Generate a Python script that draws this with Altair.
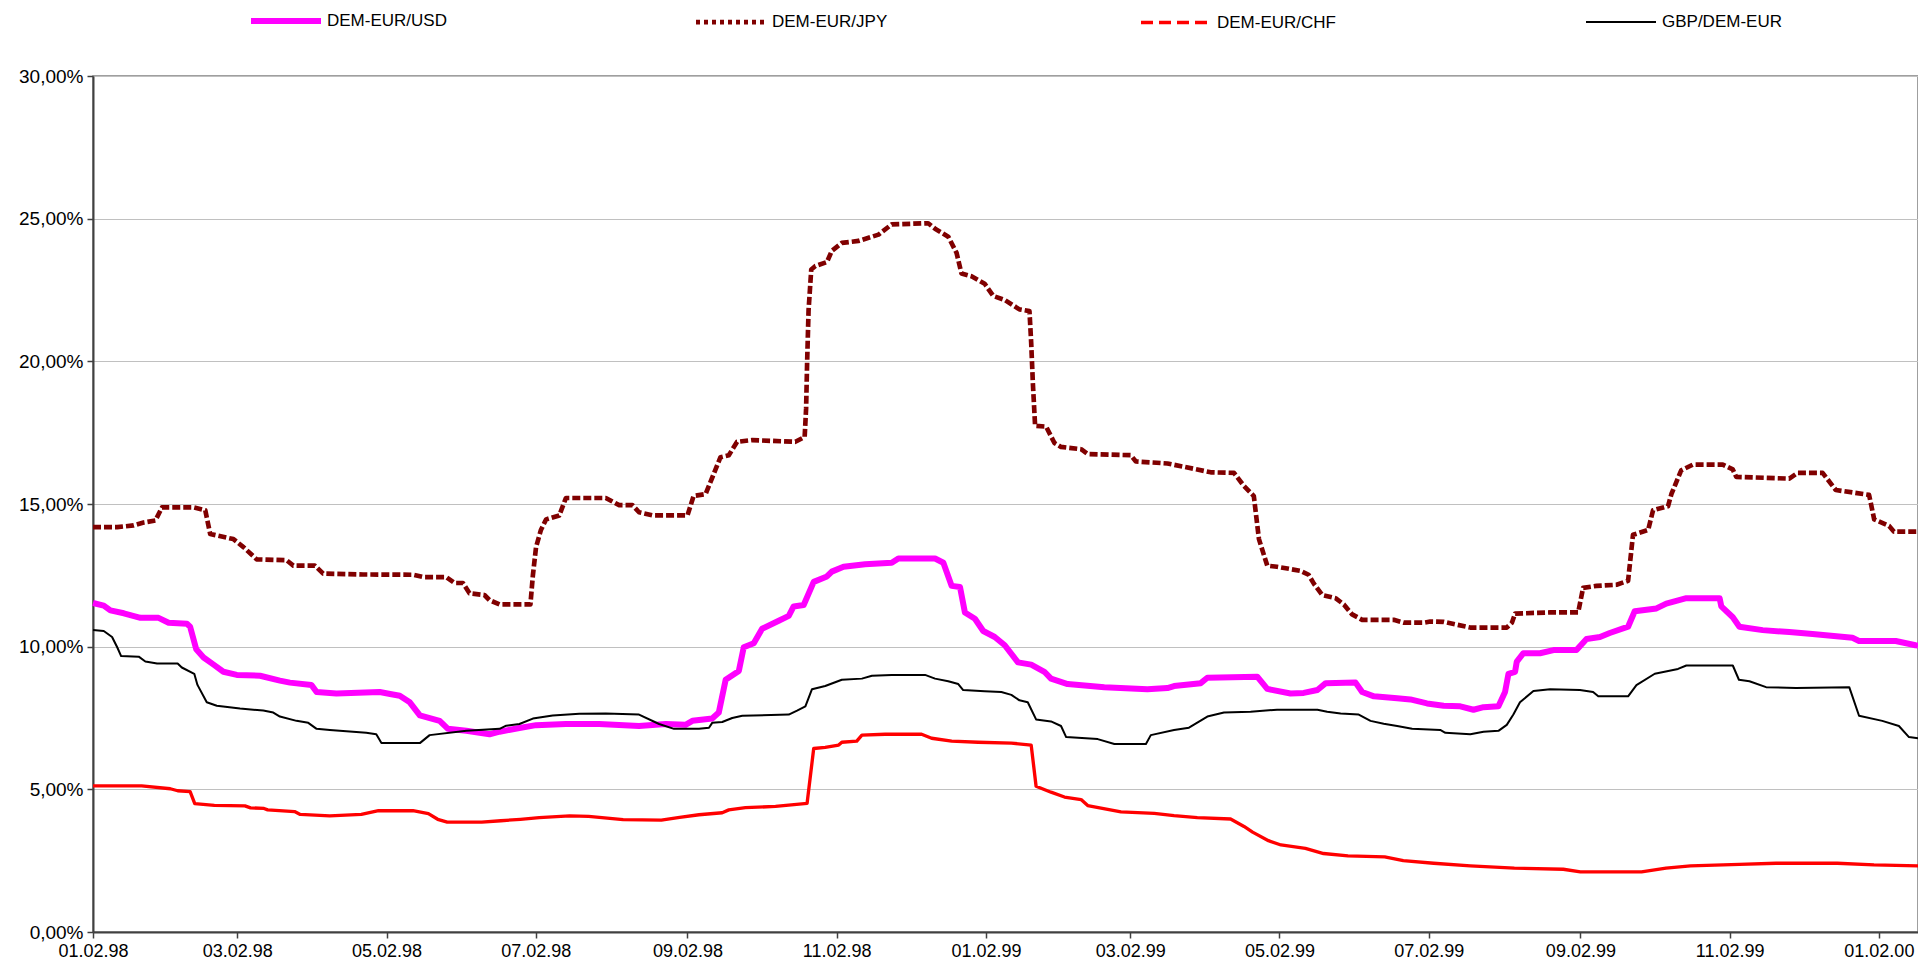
import altair as alt
import pandas as pd

START = "1998-01-02"
SERIES = ["DEM-EUR/USD", "DEM-EUR/JPY", "DEM-EUR/CHF", "GBP/DEM-EUR"]
COLORS = ["#FF00FF", "#800000", "#FF0000", "#000000"]
WIDTHS = [6, 2, 2.2, 2]

# x = days since 02 Jan 1998, y = volatility in %
usd_days = [0, 4.4, 7.1, 12.6, 19.4, 26.8, 30.9, 38.4, 39.7, 42.2, 45.2, 49.3, 53.3, 58.8, 68.3, 76.4, 80.5, 89.3,
            91.4, 99.5, 117.2, 122, 125.4, 129.5, 133.6, 141.7, 145.1, 152.6, 162.1, 166.2, 174.3, 181.1, 193.3,
            206.9, 223.2, 234.1, 242.2, 245.0, 253.1, 255.8, 258.6, 264.0, 266.0, 270.1, 273.5, 280.3, 284.4,
            286.4, 290.5, 294.6, 300.0, 302.0, 306.8, 315.6, 326.5, 329.2, 344.2, 347.6, 351.0, 354.4, 356.4,
            360.5, 363.9, 368.6, 372.7, 378.1, 383.5, 388.9, 391.6, 398.4, 413.4, 431.0, 439.2, 441.9, 452.8,
            455.5, 475.9, 480.0, 489.5, 494.9, 500.5, 503.9, 516.1, 518.8, 523.6, 533.1, 538.5, 545.3, 552.1,
            558.9, 564.3, 568.4, 574.5, 577.2, 578.6, 581.3, 582.0, 584.7, 591.5, 597.0, 606.4, 610.5, 616.0,
            620.0, 627.5, 630.2, 639.1, 643.1, 651.3, 664.9, 665.6, 670.3, 673.0, 682.5, 693.4, 702.9, 719.2,
            721.9, 736.9, 745.0, 746]
usd_vals = [11.53, 11.44, 11.27, 11.17, 11.01, 11.01, 10.84, 10.80, 10.70, 9.91, 9.62, 9.37, 9.12, 9.01, 8.98,
            8.81, 8.74, 8.66, 8.41, 8.36, 8.41, 8.33, 8.28, 8.05, 7.59, 7.40, 7.12, 7.05, 6.93, 7.02, 7.15, 7.25,
            7.29, 7.29, 7.22, 7.29, 7.26, 7.40, 7.48, 7.69, 8.84, 9.15, 9.98, 10.12, 10.63, 10.91, 11.08, 11.41,
            11.46, 12.27, 12.46, 12.63, 12.80, 12.89, 12.94, 13.09, 13.09, 12.94, 12.13, 12.09, 11.20, 10.98,
            10.55, 10.34, 10.05, 9.45, 9.37, 9.12, 8.88, 8.69, 8.58, 8.51, 8.55, 8.62, 8.72, 8.91, 8.95, 8.52,
            8.36, 8.38, 8.48, 8.72, 8.74, 8.41, 8.26, 8.19, 8.15, 8.01, 7.93, 7.91, 7.79, 7.88, 7.91, 8.41, 9.05,
            9.12, 9.48, 9.77, 9.77, 9.88, 9.88, 10.27, 10.34, 10.48, 10.70, 11.24, 11.34, 11.51, 11.70, 11.70,
            11.41, 11.03, 10.70, 10.58, 10.51, 10.44, 10.31, 10.20, 10.20, 10.05, 10.04]

jpy_days = [0, 9.9, 16.6, 20.7, 25.5, 28.2, 41.1, 45.9, 47.9, 57.4, 61.5, 66.9, 79.1, 81.9, 90.7, 94.1, 110.4,
            130.8, 134.9, 144.4, 147.8, 151.2, 153.9, 160.0, 162.1, 166.2, 178.8, 179.8, 181.1, 183.1, 185.2,
            190.6, 193.3, 209.6, 215.1, 220.5, 223.2, 228.7, 243.0, 245.5, 250.4, 253.1, 256.5, 259.9, 263.3,
            269.4, 287.1, 290.9, 291.5, 291.9, 292.5, 293.6, 295.3, 300.0, 302.0, 306.1, 312.9, 321.1, 326.5,
            341.4, 344.2, 349.6, 353.0, 355.0, 359.1, 364.5, 368.0, 372.7, 378.7, 382.8, 383.5, 384.2, 385.1,
            389.6, 393.0, 395.7, 403.9, 406.6, 424.2, 426.3, 439.2, 451.4, 456.9, 466.4, 470.4, 474.5, 476.6,
            480.0, 484.0, 493.5, 496.9, 499.1, 502.5, 507.9, 511.3, 514.7, 518.8, 531.7, 535.8, 543.9, 546.6,
            552.1, 557.5, 563.0, 577.9, 580.0, 581.3, 595.6, 607.1, 609.1, 614.6, 622.8, 627.5, 629.5, 635.7,
            637.7, 643.8, 645.2, 649.2, 654.0, 666.2, 670.3, 671.7, 693.4, 696.8, 707.0, 712.4, 726.0, 728.1,
            734.2, 736.2, 746]
jpy_vals = [14.19, 14.19, 14.25, 14.35, 14.42, 14.88, 14.88, 14.78, 13.95, 13.77, 13.49, 13.06, 13.03, 12.84,
            12.84, 12.56, 12.53, 12.52, 12.44, 12.44, 12.23, 12.23, 11.87, 11.81, 11.63, 11.48, 11.48, 12.49,
            13.49, 14.09, 14.46, 14.60, 15.21, 15.21, 14.96, 14.96, 14.71, 14.60, 14.60, 15.28, 15.35, 15.92,
            16.64, 16.71, 17.18, 17.24, 17.18, 17.35, 18.36, 19.93, 21.79, 23.22, 23.34, 23.48, 23.87, 24.15,
            24.22, 24.44, 24.80, 24.84, 24.65, 24.37, 23.80, 23.08, 22.98, 22.72, 22.29, 22.15, 21.82, 21.76,
            20.65, 19.21, 17.74, 17.71, 17.14, 17.00, 16.92, 16.75, 16.71, 16.49, 16.42, 16.21, 16.11, 16.09,
            15.64, 15.28, 13.77, 12.84, 12.80, 12.66, 12.52, 12.20, 11.81, 11.70, 11.48, 11.13, 10.94, 10.94,
            10.84, 10.84, 10.88, 10.87, 10.77, 10.67, 10.67, 10.84, 11.16, 11.20, 11.20, 12.06, 12.13, 12.17,
            12.31, 13.92, 14.09, 14.78, 14.92, 15.35, 16.18, 16.38, 16.38, 16.21, 15.95, 15.89, 16.09, 16.09,
            15.49, 15.32, 14.46, 14.23, 14.03, 14.03]

chf_days = [0, 19.9, 31.6, 34.6, 39.7, 41.6, 49.6, 62.1, 64.4, 69.9, 71.4, 82.4, 84.7, 96.8, 109.7, 116.7, 130.8,
            137.1, 140.9, 144.8, 158.9, 166.7, 174.7, 182.4, 194.8, 202.6, 216.7, 232.3, 239.8, 247.7, 257.2,
            259.9, 266.7, 279.0, 291.9, 294.6, 299.3, 304.8, 306.1, 312.2, 314.3, 323.8, 338.7, 342.8, 351.0,
            361.8, 375.4, 383.5, 385.5, 391.6, 397.1, 403.9, 406.6, 420.2, 433.8, 441.9, 451.4, 465.0, 470.5,
            474, 480.5, 485.6, 495.6, 503, 513, 528, 535.6, 548, 563, 581, 601, 608, 633, 643, 653, 673, 688,
            713, 728, 746]
chf_vals = [5.12, 5.12, 5.02, 4.95, 4.92, 4.50, 4.44, 4.42, 4.35, 4.33, 4.28, 4.22, 4.12, 4.07, 4.12, 4.25, 4.25,
            4.15, 3.95, 3.85, 3.85, 3.90, 3.95, 4.01, 4.07, 4.05, 3.94, 3.92, 4.02, 4.11, 4.18, 4.28, 4.36, 4.40,
            4.51, 6.43, 6.47, 6.55, 6.65, 6.69, 6.90, 6.93, 6.93, 6.79, 6.69, 6.65, 6.62, 6.55, 5.11, 4.90, 4.73,
            4.64, 4.43, 4.21, 4.16, 4.08, 4.01, 3.96, 3.70, 3.50, 3.20, 3.05, 2.93, 2.75, 2.67, 2.63, 2.50, 2.41,
            2.32, 2.24, 2.20, 2.11, 2.11, 2.24, 2.32, 2.37, 2.41, 2.41, 2.35, 2.32]

gbp_days = [0, 4.4, 7.8, 9.9, 11.5, 18.7, 21.4, 26.2, 34.6, 36.3, 41.4, 42.7, 46.5, 50.6, 60.1, 69.6, 73.7, 76.4,
            83.2, 88.0, 91.4, 96.8, 111.7, 115.8, 117.9, 133.6, 137.6, 152.6, 166.2, 168.9, 174.3, 179.8, 187.9,
            198.8, 209.6, 223.2, 231.4, 237.5, 247.7, 251.8, 253.1, 257.2, 261.3, 265.4, 284.4, 287.8, 291.2,
            293.9, 299.3, 306.1, 314.3, 318.4, 326.5, 340.1, 344.2, 349.6, 353.7, 355.7, 364.5, 371.3, 375.4,
            378.7, 382.1, 385.5, 391.6, 395.7, 397.8, 410.7, 417.5, 430.4, 432.4, 441.9, 448.0, 455.5, 462.3,
            473.2, 484.0, 500.5, 504.5, 510.0, 517.4, 522.2, 527.6, 533.1, 539.2, 550.7, 552.8, 563.0, 568.4,
            574.5, 577.9, 580.6, 583.3, 588.8, 595.6, 607.8, 613.2, 615.3, 627.5, 630.9, 638.4, 647.9, 651.3,
            670.3, 672.8, 677.1, 683.9, 696.1, 717.9, 721.9, 731.4, 738.2, 742.3, 746]
gbp_vals = [10.58, 10.55, 10.34, 9.98, 9.67, 9.65, 9.48, 9.41, 9.41, 9.27, 9.05, 8.66, 8.05, 7.93, 7.83, 7.76,
            7.69, 7.55, 7.40, 7.33, 7.12, 7.08, 6.98, 6.93, 6.62, 6.62, 6.90, 7.05, 7.12, 7.23, 7.29, 7.48, 7.59,
            7.65, 7.66, 7.62, 7.29, 7.12, 7.12, 7.16, 7.33, 7.36, 7.50, 7.58, 7.62, 7.76, 7.91, 8.51, 8.62, 8.84,
            8.88, 8.98, 9.01, 9.01, 8.88, 8.79, 8.69, 8.48, 8.44, 8.41, 8.31, 8.12, 8.05, 7.45, 7.38, 7.22, 6.83,
            6.76, 6.59, 6.59, 6.90, 7.08, 7.16, 7.55, 7.69, 7.72, 7.79, 7.79, 7.72, 7.66, 7.62, 7.40, 7.30, 7.22,
            7.12, 7.08, 6.98, 6.93, 7.02, 7.05, 7.26, 7.62, 8.05, 8.45, 8.51, 8.48, 8.41, 8.26, 8.26, 8.65, 9.05,
            9.22, 9.34, 9.34, 8.84, 8.79, 8.58, 8.55, 8.58, 7.58, 7.40, 7.22, 6.83, 6.79]

Y_TICKS = [0, 5, 10, 15, 20, 25, 30]
X_TICKS = [(1998, 1, 2), (1998, 3, 2), (1998, 5, 2), (1998, 7, 2), (1998, 9, 2), (1998, 11, 2),
           (1999, 1, 2), (1999, 3, 2), (1999, 5, 2), (1999, 7, 2), (1999, 9, 2), (1999, 11, 2), (2000, 1, 2)]

frames = []
for name, days, vals in zip(SERIES, [usd_days, jpy_days, chf_days, gbp_days],
                            [usd_vals, jpy_vals, chf_vals, gbp_vals]):
    d = (pd.Timestamp(START) + pd.to_timedelta(pd.Series(days, dtype=float), unit="D")).dt.round("min")
    frames.append(pd.DataFrame({"date": d.dt.strftime("%Y-%m-%dT%H:%M:%S"), "value": vals, "series": name}))
df = pd.concat(frames, ignore_index=True)

FONT = "Liberation Sans"
legend = alt.Legend(
    title=None, orient="none", legendX=155, legendY=-93, direction="horizontal", columns=4,
    columnPadding=239, gridAlign="all", symbolType="stroke", symbolSize=4900, labelOffset=3,
    labelFont=FONT, labelFontSize=17, labelColor="#000000", padding=0,
    symbolDash=alt.ExprRef(expr="datum.value === 'DEM-EUR/CHF' ? [12, 6] : datum.value === 'DEM-EUR/JPY' ? [4, 4] : [1, 0]"),
    symbolStrokeWidth=alt.ExprRef(expr="datum.value === 'DEM-EUR/USD' ? 8 : datum.value === 'GBP/DEM-EUR' ? 3 : 4"),
)

color = alt.Color("series:N", scale=alt.Scale(domain=SERIES, range=COLORS), legend=legend)
width = alt.StrokeWidth("series:N", scale=alt.Scale(domain=SERIES, range=WIDTHS), legend=None)

x = alt.X("date:T",
          scale=alt.Scale(domain=[alt.DateTime(year=1998, month=1, date=2),
                                  alt.DateTime(year=2000, month=1, date=18)]),
          axis=alt.Axis(values=[alt.DateTime(year=a, month=b, date=c) for a, b, c in X_TICKS],
                        format="%m.%d.%y", title=None, grid=False, labelFlush=False, labelOverlap=False,
                        tickSize=6, labelPadding=4, labelFontSize=18))
y = alt.Y("value:Q", scale=alt.Scale(domain=[0, 30], nice=False),
          axis=alt.Axis(values=Y_TICKS, title=None, grid=True, tickSize=6, labelPadding=4, labelFontSize=19,
                        labelExpr="replace(format(datum.value, '.2f'), '.', ',') + '%'"))

layers = []
for name in SERIES:
    if name == "DEM-EUR/JPY":
        mk = alt.Chart(df).mark_line(strokeDash=[8, 3], strokeJoin="round")
    else:
        mk = alt.Chart(df).mark_line(strokeJoin="round")
    layers.append(
        mk.encode(x=x, y=y, color=color, strokeWidth=width)
        .transform_filter(alt.datum.series == name)
    )

chart = alt.layer(*layers).properties(
    width=1825, height=856,
    autosize=alt.AutoSizeParams(type="none"),
    padding={"left": 85, "top": 68, "right": 0, "bottom": 28},
).configure_view(stroke="#808080", strokeWidth=1.5).configure_axis(
    labelFont=FONT, labelColor="#000000",
    domainColor="#404040", domainWidth=2, tickColor="#404040", tickWidth=1.5,
    gridColor="#c0c0c0", gridWidth=1,
)

chart.save("out.html", embed_options={"renderer": "svg", "actions": False})
